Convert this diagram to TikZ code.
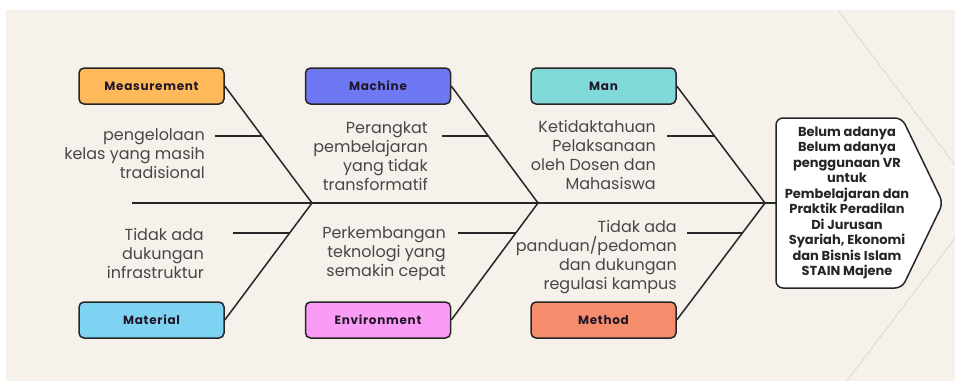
\documentclass[tikz,border=0pt]{standalone}
\usepackage{fontspec}
\setmainfont{Poppins}
\newfontfamily\labfont[LetterSpace=6]{Poppins Bold}
\newfontfamily\efffont{Poppins Bold}
\definecolor{bgcream}{HTML}{F6F2EB}
\definecolor{ink}{HTML}{262626}
\definecolor{deco}{HTML}{DAD5CC}
\definecolor{cMeas}{HTML}{FDB95A}
\definecolor{cMach}{HTML}{6E78F2}
\definecolor{cMan}{HTML}{82D9D9}
\definecolor{cMat}{HTML}{7ED3F2}
\definecolor{cEnv}{HTML}{FA9BF5}
\definecolor{cMeth}{HTML}{F58C6C}
\definecolor{labink}{HTML}{22162A}
\tikzset{
  catbox/.style={draw=ink, line width=1.5pt, rounded corners=5pt, minimum width=145pt, minimum height=36pt, inner sep=0pt, font=\labfont\fontsize{12}{14}\selectfont, text=labink},
  bone/.style={draw=ink, line width=1.5pt},
  cause/.style={align=right, inner sep=0pt, anchor=base east, font=\fontsize{16}{19}\selectfont, text=ink!85},
}
\begin{document}
\begin{tikzpicture}[x=1pt,y=-1pt]
\useasboundingbox (0,0) rectangle (955,383);
\fill[white] (0,0) rectangle (955,383);
\fill[bgcream] (6,10) rectangle (955,381);
\draw[deco, line width=0.7pt] (838,10) -- (955,165);
\draw[deco, line width=0.7pt] (955,238) -- (847,381);

% category boxes
\node[catbox, fill=cMeas] (meas) at (151.5,86) {Measurement};
\node[catbox, fill=cMach] (mach) at (378,86) {Machine};
\node[catbox, fill=cMan] (man) at (603.5,86) {Man};
\node[catbox, fill=cMat] (mat) at (151.5,320) {Material};
\node[catbox, fill=cEnv] (env) at (378,320) {Environment};
\node[catbox, fill=cMeth] (meth) at (603.5,320) {Method};

% junctions on the spine
\coordinate (tail) at (132,203);
\coordinate (j1) at (312,203);
\coordinate (j2) at (538,203);
\coordinate (j3) at (765,203);
\coordinate (effw) at (776,203);

% effect
\draw[ink, line width=1.5pt, fill=white, rounded corners=7pt] (effw) -- (776,118) -- (902,118) -- (943,203) -- (902,288) -- (776,288) -- cycle;
\node[align=center, inner sep=0pt, font=\efffont\fontsize{13}{15.5}\selectfont, text=ink] (eff) at (847,203)
  {Belum adanya\\Belum adanya\\penggunaan VR\\untuk\\Pembelajaran dan\\Praktik Peradilan\\Di Jurusan\\Syariah, Ekonomi\\dan Bisnis Islam\\STAIN Majene};

% spine
\draw[bone] (tail) -- (effw);

% bones
\draw[bone] (meas.east) -- (j1) coordinate[pos=0.43] (k1);
\draw[bone] (mat.east) -- (j1) coordinate[pos=0.744] (k4);
\draw[bone] (mach.east) -- (j2) coordinate[pos=0.43] (k2);
\draw[bone] (env.east) -- (j2) coordinate[pos=0.744] (k5);
\draw[bone] (man.east) -- (j3) coordinate[pos=0.43] (k3);
\draw[bone] (meth.east) -- (j3) coordinate[pos=0.744] (k6);

% causes (anchor = baseline of last line)
\node[cause] (t1) at (205,178) {pengelolaan\\kelas yang masih\\tradisional};
\node[cause] (t2) at (428,190) {Perangkat\\pembelajaran\\yang tidak\\transformatif};
\node[cause] (t3) at (656,189) {Ketidaktahuan\\Pelaksanaan\\oleh Dosen dan\\Mahasiswa};
\node[cause] (t4) at (204,278) {Tidak ada\\dukungan\\infrastruktur};
\node[cause] (t5) at (446,276) {Perkembangan\\teknologi yang\\semakin cepat};
\node[cause] (t6) at (677,289) {Tidak ada\\panduan/pedoman\\dan dukungan\\regulasi kampus};

\coordinate (s1) at (215,136);
\coordinate (s2) at (442,136);
\coordinate (s3) at (667,136);
\coordinate (s4) at (233,233);
\coordinate (s5) at (458,233);
\coordinate (s6) at (687,233);
\draw[bone] (s1) -- (s1 -| k1);
\draw[bone] (s2) -- (s2 -| k2);
\draw[bone] (s3) -- (s3 -| k3);
\draw[bone] (s4) -- (s4 -| k4);
\draw[bone] (s5) -- (s5 -| k5);
\draw[bone] (s6) -- (s6 -| k6);
\end{tikzpicture}
\end{document}
